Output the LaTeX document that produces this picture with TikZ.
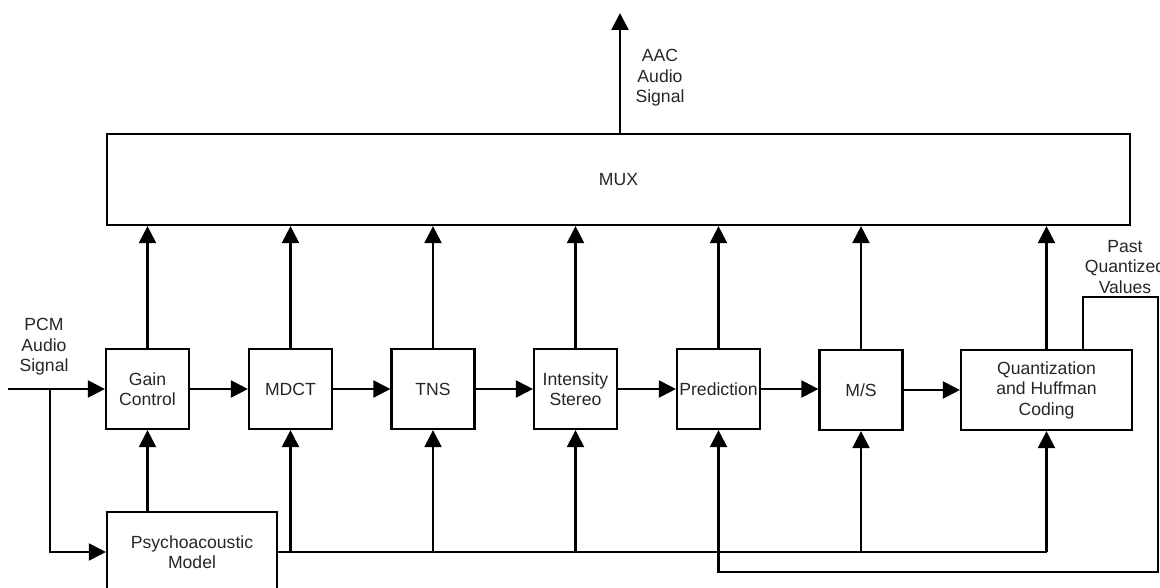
\documentclass[tikz,border=0pt]{standalone}
\usepackage{fontspec}
\setmainfont{Liberation Sans}
\usetikzlibrary{arrows.meta}
\definecolor{txt}{HTML}{262626}
\begin{document}
\begin{tikzpicture}[x=1pt,y=-1pt,line width=2.2pt,
  >={Triangle[length=17pt,width=17pt]},
  blk/.style={draw,minimum width=83pt,minimum height=80pt,inner sep=0pt,align=center,
    font=\fontsize{17.6}{20.5}\selectfont,text=txt},
  lbl/.style={align=center,inner sep=0pt,font=\fontsize{17.6}{20.5}\selectfont,text=txt}]
\useasboundingbox (0,0) rectangle (1160,588);
% main blocks
\node[blk] (gain) at (147.5,389) {Gain\\Control};
\node[blk] (mdct) at (290.5,389) {MDCT};
\node[blk] (tns)  at (433,389) {TNS};
\node[blk] (ist)  at (575.5,389) {Intensity\\Stereo};
\node[blk] (pred) at (718.5,389) {Prediction};
\node[blk] (ms)   at (861,390) {M/S};
\node[blk,minimum width=171pt] (quant) at (1046.5,390) {Quantization\\and Huffman\\Coding};
\node[blk,minimum width=1023pt,minimum height=91pt] (mux) at (618.5,179.5) {MUX};
\node[blk,minimum width=170pt,minimum height=80pt] (psy) at (192,552) {Psychoacoustic\\Model};
% labels
\node[lbl] (pcm) at (44,347) {PCM\\Audio\\Signal};
\node[lbl] (aac) at (660,78) {AAC\\Audio\\Signal};
\node[lbl] (past) at (1125,267) {Past\\Quantized\\Values};
% coordinates
\coordinate (in) at (8,389);
\coordinate (br) at (50,389);
\coordinate (out) at (620,13);
\coordinate (busend) at (quant.south |- psy.east);
\coordinate (fb1) at (1083,297);
\coordinate (fb2) at (1158,297);
\coordinate (fb3) at (1158,572);
\coordinate (fb4) at (pred.south |- fb3);
% input
\draw[->] (in) -- (gain.west);
\draw[->] (br) |- (psy.west);
% chain
\draw[->] (gain) -- (mdct);
\draw[->] (mdct) -- (tns);
\draw[->] (tns) -- (ist);
\draw[->] (ist) -- (pred);
\draw[->] (pred.east) -- (ms.west |- pred.east);
\draw[->] (ms) -- (quant);
% to MUX
\foreach \n in {gain,mdct,tns,ist,pred,ms,quant}
  \draw[->] (\n.north) -- (\n.north |- mux.south);
\draw[->] (mux.north -| out) -- (out);
% psychoacoustic
\draw[->] (gain.south |- psy.north) -- (gain.south);
\draw (psy.east) -- (busend);
\foreach \n in {mdct,tns,ist,ms,quant}
  \draw[->] (\n.south |- psy.east) -- (\n.south);
% feedback
\draw[->] (quant.north -| fb1) -- (fb1) -- (fb2) -- (fb3) -- (fb4) -- (pred.south);
\end{tikzpicture}
\end{document}
